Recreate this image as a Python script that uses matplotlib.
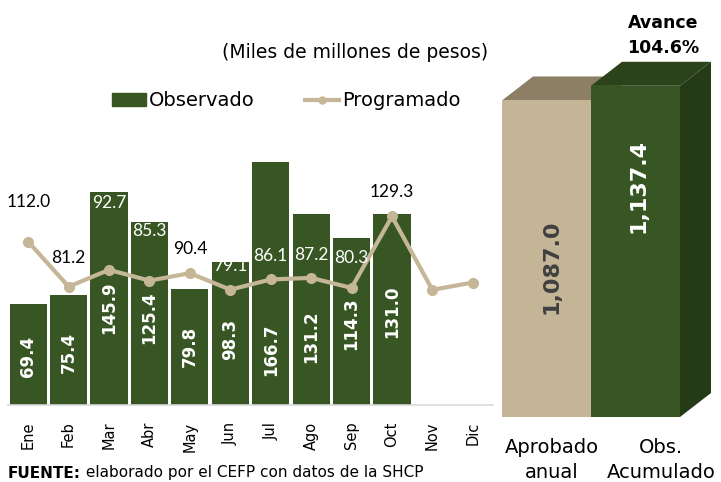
import matplotlib
matplotlib.use("Agg")
import matplotlib.pyplot as plt
from matplotlib.patches import Polygon, Patch
from matplotlib.lines import Line2D

# Data (miles de millones de pesos)
months = ["Ene", "Feb", "Mar", "Abr", "May", "Jun", "Jul", "Ago", "Sep", "Oct", "Nov", "Dic"]
observado = [69.4, 75.4, 145.9, 125.4, 79.8, 98.3, 166.7, 131.2, 114.3, 131.0]
programado = [112.0, 81.2, 92.7, 85.3, 90.4, 79.1, 86.1, 87.2, 80.3, 129.3, 79.0, 84.0]
prog_labeled = 10  # Nov/Dic are not labelled

summary_labels = ["Aprobado\nanual", "Obs.\nAcumulado"]
summary_values = [1087.0, 1137.4]
avance = 104.6

# styles / manual label placement
GREEN = "#375623"
TAN = "#C4B696"
obs_label_y = [33, 36, 67, 60, 40, 45, 38, 47, 56, 64]          # data units
prog_label_dy = [40, 29, 67, 50, 24, 24, 23, 23, 30, 24]        # pixels above point
prog_label_col = ["black", "black", "white", "white", "black", "white",
                  "white", "white", "white", "black"]

W, H = 721, 482
fig = plt.figure(figsize=(W / 100, H / 100), dpi=100)

# ---------------- left chart ----------------
base_px, top_px = 405, 60
px_per_unit = 1.458
ax = fig.add_axes([8 / W, (H - base_px) / H, 485 / W, (base_px - top_px) / H])
x = list(range(len(months)))
ax.bar(x[:len(observado)], observado, width=0.92, color=GREEN, zorder=2)
ax.plot(x, programado, color=TAN, lw=3, marker="o", ms=7, zorder=3)
ax.set_xlim(-0.5, 11.5)
ax.set_ylim(0, (base_px - top_px) / px_per_unit)

for i, v in enumerate(observado):
    ax.text(i, obs_label_y[i], f"{v:.1f}", rotation=90, ha="center", va="center",
            color="white", fontsize=12, fontweight="bold", family="DejaVu Sans", zorder=5)

for i in range(prog_labeled):
    ax.annotate(f"{programado[i]:.1f}", (i, programado[i]), xytext=(0, prog_label_dy[i]),
                textcoords="offset pixels", ha="center", va="center",
                color=prog_label_col[i], fontsize=12.5, family="Lato", zorder=6)

ax.set_xticks(x)
ax.set_xticklabels(months, rotation=90, fontsize=10.5, family="DejaVu Sans")
ax.tick_params(axis="x", length=0, pad=12)
ax.set_yticks([])
for s in ["top", "right", "left"]:
    ax.spines[s].set_visible(False)
ax.spines["bottom"].set_color("#D9D9D9")
ax.spines["bottom"].set_linewidth(1.2)
ax.patch.set_alpha(0)

fig.text(355 / W, 1 - 52 / H, "(Miles de millones de pesos)", ha="center", va="center",
         fontsize=13.5, family="DejaVu Sans")

handles = [Patch(color=GREEN), Line2D([], [], color=TAN, lw=3, marker="o", ms=5)]
fig.legend(handles, ["Observado", "Programado"], loc="center", ncol=2, frameon=False,
           bbox_to_anchor=(286 / W, 1 - 101 / H), handlelength=1.75,
           handletextpad=0.15, columnspacing=2.6, handleheight=0.6,
           prop={"family": "DejaVu Sans", "size": 14})

# source note: bold "FUENTE:" followed by regular text
t = fig.text(8 / W, 1 - 473 / H, "FUENTE:", ha="left", va="center", fontsize=11,
             fontweight="bold", family="DejaVu Sans")
ax.annotate(" elaborado por el CEFP con datos de la SHCP", xy=(1, 0.5), xycoords=t,
            ha="left", va="center", fontsize=11, family="DejaVu Sans", annotation_clip=False)

# ---------------- right 3D bars ----------------
rb_px = 417
unit_px_y = 0.2912
unit_px_x = 89
ax2 = fig.add_axes([495 / W, (H - rb_px) / H, 226 / W, rb_px / H])
ax2.set_xlim(-7 / unit_px_x, (226 - 7) / unit_px_x)
ax2.set_ylim(0, rb_px / unit_px_y)
ax2.axis("off")

dx = 31 / unit_px_x
dy = 24 / unit_px_y
face_cols = [("#C4B596", "#8C7F66", "#A89A7C"), (GREEN, "#2B421B", "#253A16")]
for i, h in enumerate(summary_values):
    front_c, top_c, side_c = face_cols[i]
    x0, x1 = i, i + 1
    ax2.add_patch(Polygon([(x1, 0), (x1 + dx, dy), (x1 + dx, h + dy), (x1, h)],
                          closed=True, color=side_c, lw=0))
    ax2.add_patch(Polygon([(x0, h), (x1, h), (x1 + dx, h + dy), (x0 + dx, h + dy)],
                          closed=True, color=top_c, lw=0))
    ax2.add_patch(Polygon([(x0, 0), (x1, 0), (x1, h), (x0, h)],
                          closed=True, color=front_c, lw=0))

ax2.text(0.56, 515, f"{summary_values[0]:,.1f}", rotation=90, ha="center", va="center",
         color="#404040", fontsize=16, fontweight="bold", family="DejaVu Sans")
ax2.text(1.53, 793, f"{summary_values[1]:,.1f}", rotation=90, ha="center", va="center",
         color="white", fontsize=16, fontweight="bold", family="DejaVu Sans")
ax2.text(1.81, 1310, f"Avance\n{avance:.1f}%", ha="center", va="center", fontsize=12.5,
         fontweight="bold", family="DejaVu Sans", linespacing=1.55, clip_on=False)

for i, lab in enumerate(summary_labels):
    fig.text([552, 661][i] / W, 1 - 460 / H, lab, ha="center", va="center",
             fontsize=14, family="DejaVu Sans", linespacing=1.4)

fig.savefig("out.png", dpi=100)
